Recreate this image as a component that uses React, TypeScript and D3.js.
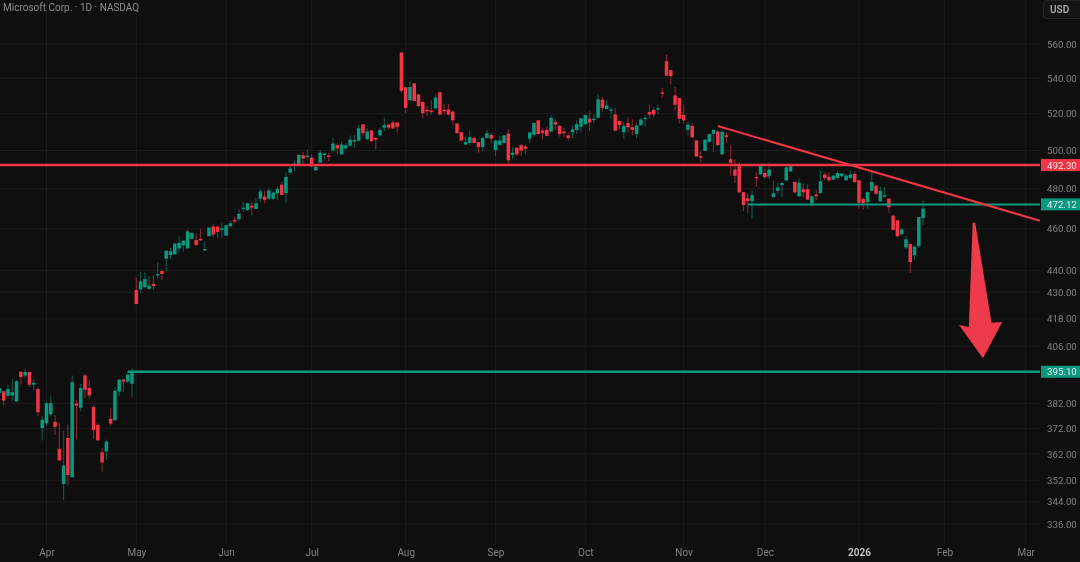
import React, { useRef, useEffect } from 'react';
import * as d3 from 'd3';

const WIDTH = 1080;
const HEIGHT = 562;

const opens = [
  386.2,387,385.1,385.3,382.8,395.1,393.5,395,389.7,387.9,
  372.1,374,377.6,374.6,363.9,350.6,368.2,353.1,382,380.2,
  393.5,388.3,380.6,373.4,362.6,363,375.8,375.2,386.9,391.8,
  391,390.1,431,431.3,432.3,431.5,433.8,438,439.8,445.6,
  447.3,447.6,450.5,452,450.5,455.1,454.5,455.1,449.7,456.4,
  461.1,461.1,459.5,456.7,461.3,464.3,464.7,470.2,469.2,471.5,
  469.8,475,476.1,475,475,477.8,482.1,477.8,488.4,492.6,
  492.7,497.5,496.7,496.2,489.6,493.6,497.6,497.3,500,502.8,
  497.9,501.1,502.6,505.1,505.3,514.2,506.1,510.7,506.7,508.1,
  512.3,514,515.1,515.1,554.9,534.8,527.4,537,530.7,526.5,
  522.1,521.7,522.9,532,522.1,522.3,521.1,514.6,509.8,503.2,
  504,506.7,504.5,501.8,506.7,508.4,500.2,503,504,509,
  497.6,501.4,502.8,502.1,506.3,508.4,516.3,510.7,511.1,510.2,
  515.4,513.3,510.2,508.1,509.8,511.1,512.8,514.2,517.2,516.7,
  517.7,527.8,522.5,521.7,519.5,516,509.8,514.8,512.5,508.8,
  513.7,517.2,520.9,522.1,522.3,531.9,549.9,544.7,530.2,528.7,
  519.3,511.1,513.2,505.4,497,499.8,504.6,509,510.2,497.9,
  508.2,495.3,490,492.6,478.3,475.2,473.7,486.1,487.4,488.2,
  486.5,475.8,479,481.9,484.3,489,483.5,476.2,479.8,479.8,
  472.5,477,477.8,487.4,486.1,484.7,485.6,486.5,484.4,485.6,
  487.7,484.4,474.8,473.2,479,481.6,473.7,476.3,475,466.5,
  464.2,457.3,451,452.7,447.2,451.6,465.3,
];

const highs = [
  388.6,387,389.7,392.1,391.6,395.1,396.2,395.2,392.1,388.6,
  377.1,382.8,384.9,377.3,374.3,371,373.6,393.5,383.5,390,
  394.3,391.8,381.4,374,364.3,367.6,380,388.6,392.1,392.5,
  395.2,396.6,436.8,439.4,439.4,437.6,438,443.7,440.8,449.4,
  450.8,452.9,456.4,454.3,459.5,458.3,457.7,460,454,460.6,
  462.4,461.6,462.7,461.8,463.8,466,469.7,473.2,473,473.6,
  475.2,480,479.2,480.3,478.7,481.2,483.5,488.4,491.9,494.8,
  497.7,499.3,500.5,497.9,491.9,500,498.8,498.8,506.7,504,
  504.9,504,508,508.4,513.7,514.2,512,511.1,506.7,512.5,
  517.7,514.6,516.3,515.4,554.9,534.8,538.3,537,531.2,527.4,
  524.2,527.4,530.9,532,525.5,525.5,521.7,514.6,509.8,507.5,
  510.7,507.5,504.5,507.5,511.1,509.3,505.8,508.1,508.1,511.6,
  501.4,501.9,503.2,503.2,509.7,514.9,516.3,512,512.8,519,
  517.2,513.7,512,509.3,513.7,516.3,517.5,519.3,521.3,519.8,
  530.7,529.3,527.4,523.6,523,516,515.4,518,516.7,514.6,
  517.7,519,524.9,523.6,524.9,534.4,553.5,544.7,535,528.7,
  524.6,515.4,514.6,505.4,499.6,506.1,509.3,511.4,510.7,510.7,
  510,502.8,495.3,493.9,478.3,477.8,479,488.5,492.8,490.2,
  493.5,484.1,483,483.3,491.7,492.3,483.9,485.6,482.6,482.1,
  477,479.5,489.6,488.6,488.6,487.4,489.1,488.2,487.7,489.6,
  489.1,484.4,475.5,478.7,489.6,482.1,480.9,480.9,475.3,467,
  464.2,460.3,456.7,452.7,451.9,465.8,474,
];

const lows = [
  385.3,381.1,384.9,383.2,382.8,389.7,392.5,388.6,387.3,376.8,
  367.2,373,376.8,369.4,359.5,344.8,350.1,353.1,367.6,378.7,
  384.2,383.9,367.8,366.9,355.3,359.7,373,375.2,384.9,386.6,
  390.4,384.5,424.6,429.7,431.8,431,431,436,435.7,439.7,
  445.3,447.6,448.8,448.8,450.5,454.8,452,454,449.2,456.4,
  456,455.5,455.6,456.4,460.8,462.7,463.8,468.5,468.8,466.8,
  469.7,473.3,472.7,474.4,474.4,474.4,476.9,472.7,487.2,489,
  492.7,492.7,495.3,491.6,489.2,493.6,495.3,494.5,498.8,497.9,
  497.9,500.5,502.3,501.4,504.9,507.5,505.4,504.9,500.5,507.5,
  510.2,511.1,511.4,509.3,531.8,520.4,527.4,527,523.6,517.5,
  518.6,519.5,522.7,519,519.5,519,513.7,509,504.9,502.8,
  502.6,503.7,498.8,499.7,506.1,504,497.1,502.6,503.7,492.7,
  495.3,497.1,497.1,497.9,504,507.5,508.8,505.8,507.5,509.8,
  511.1,507.5,507.2,505.3,506.7,508.8,510.2,513.7,510.5,514.6,
  517.7,521.1,522.5,517.2,510.2,511.4,506.1,509.8,508.1,506.7,
  513.3,512.8,517.2,518,519.8,528.8,541.4,536.4,521.7,514.6,
  514.6,507.9,507,496.8,493.5,499.6,504.1,499.1,502.8,497.9,
  504.1,486.8,483,478.2,468.7,467.8,465,480.9,487.4,485.1,
  485.1,475.8,477.5,475.8,484.3,488.7,477.8,475.8,475.8,474.5,
  470.8,474.5,477.8,484.6,483.7,484.7,485.3,486.1,484.2,485.3,
  483,470,469.6,469.9,478.7,477,473.2,476.2,468,459.5,
  456,456.8,450.2,438.9,445,450.8,462,
];

const closes = [
  388.3,383.2,387.9,386.6,391.1,392.9,395,389.7,390.5,378.4,
  375.4,382.1,382.1,372.6,359.5,357.6,354,390.7,381.1,388.3,
  387.6,385.3,371.4,367.3,358.8,366.8,373.9,387.2,391.8,391,
  393.9,395.2,424.6,435,436.1,433,432.9,438.4,438.4,449.4,
  449.2,452.9,453.2,454.3,458.8,458,452.1,454.5,450.2,460.6,
  457.2,458.5,460.3,461.8,462.7,463.7,467.4,470.5,472.7,470.5,
  472.7,478.7,474.4,479.2,478.1,480,476.9,486.1,490.5,493,
  497.7,495.8,497.3,491.6,491.4,498.8,498.4,496.7,503.7,501.1,
  503.2,502.8,505.8,505.6,512,509.3,510.2,504.9,505.8,511.1,
  513.7,512.3,511.9,512.8,532.7,523.2,535,527,524.2,520.2,
  521.3,521,529,519.5,521.3,519.5,516.3,509.3,505.3,504.5,
  507.2,504,501.8,506.7,509.3,506.3,505.3,505.3,508.1,494.8,
  498.8,497.9,500,500.9,509.7,514.9,508.8,509.3,507.9,517.7,
  514,508.8,509.3,506.7,511.4,514.2,517.5,519.3,515.1,517.2,
  528,523.2,524.6,522.3,510.7,513.7,513.2,512.5,511.1,513.5,
  516.7,517.7,519.5,519.5,523,531.3,541.4,541.2,525,517.2,
  516.3,514,507,496.8,496.5,505.8,508.8,511.1,502.8,510,
  507.2,493.5,486.8,478.2,471.8,473.8,476.8,485.6,492,486,
  490,477.8,480.7,483,491.1,491.7,478.2,483.2,478.2,474.5,
  476.2,476.2,483.9,485.6,484.4,486.8,488.2,487.9,486.8,487.4,
  483.5,473,472.8,478.3,483.5,477.5,479,476.7,470.7,459.5,
  456.4,459.8,454.9,444,451.3,465.8,470,
];

const priceTicks = [560, 540, 520, 500, 480, 460, 440, 430, 418, 406, 382, 372, 362, 352, 344, 336];
const monthIndex = [11, 32, 53, 73, 95, 116, 137, 160, 179, 201, 221, 240];
const monthLabels = ['Apr', 'May', 'Jun', 'Jul', 'Aug', 'Sep', 'Oct', 'Nov', 'Dec', '2026', 'Feb', 'Mar'];

// horizontal levels: price, bar the line starts at, colour
const levelPrices = [492.3, 472.12, 395.1];
const levelStarts = [-1, 175, 30];
const levelWidths = [2.4, 2, 2.4];

// falling trend line
const trendIndex = [168, 243.3];
const trendPrice = [513.2, 464];

// big arrow drawn on the chart, in bars and prices
const arrowIndex = [227.6, 226.7, 224.4, 230, 234.5, 232, 228.2];
const arrowPrice = [463, 414.4, 415.3, 400.8, 416.6, 416.2, 463];

const GREEN = '#089981';
const RED = '#f23645';
const GRID = '#1b1b1b';
const BG = '#0f0f0f';
const TEXT = '#828282';
const FONT = 'Roboto, Inter, sans-serif';

const App: React.FC = () => {
  const d3Container = useRef<SVGSVGElement>(null);

  useEffect(() => {
    if (!d3Container.current) return;
    const svg = d3.select(d3Container.current);
    svg.selectAll('*').remove();

    const plotRight = 1040;
    const x = d3.scaleLinear().domain([0, 240]).range([-0.53, 1025.71]);
    const y = d3.scaleLog().domain([336, 560]).range([524, 44]);

    svg.append('rect').attr('width', WIDTH).attr('height', HEIGHT).attr('fill', BG);

    // grid
    svg.append('g').selectAll('line').data(priceTicks).join('line')
      .attr('x1', 0).attr('x2', plotRight)
      .attr('y1', d => y(d)).attr('y2', d => y(d))
      .attr('stroke', GRID);
    svg.append('g').selectAll('line').data(monthIndex).join('line')
      .attr('x1', d => x(d)).attr('x2', d => x(d))
      .attr('y1', 0).attr('y2', 545)
      .attr('stroke', GRID);

    // candles
    const bars = d3.range(opens.length);
    const barColor = (i: number) => (closes[i] >= opens[i] ? GREEN : RED);
    svg.append('g').selectAll('line').data(bars).join('line')
      .attr('x1', i => x(i)).attr('x2', i => x(i))
      .attr('y1', i => y(highs[i])).attr('y2', i => y(lows[i]))
      .attr('stroke', barColor)
      .attr('stroke-opacity', 0.55)
      .attr('stroke-width', 1.1);
    svg.append('g').selectAll('rect').data(bars).join('rect')
      .attr('x', i => x(i) - 1.75)
      .attr('width', 3.5)
      .attr('y', i => y(Math.max(opens[i], closes[i])))
      .attr('height', i => Math.max(1.4, Math.abs(y(opens[i]) - y(closes[i]))))
      .attr('fill', barColor);

    // levels
    const levelColors = [RED, GREEN, GREEN];
    svg.append('g').selectAll('line').data(levelPrices).join('line')
      .attr('x1', (_, i) => Math.max(0, x(levelStarts[i])))
      .attr('x2', plotRight)
      .attr('y1', d => y(d)).attr('y2', d => y(d))
      .attr('stroke', (_, i) => levelColors[i])
      .attr('stroke-width', (_, i) => levelWidths[i]);

    // trend line
    const trendLine = d3.line<number>()
      .x(d => x(d))
      .y((_, i) => y(trendPrice[i]));
    svg.append('path')
      .attr('d', trendLine(trendIndex))
      .attr('fill', 'none')
      .attr('stroke', RED)
      .attr('stroke-width', 2);

    // arrow
    const arrowLine = d3.line<number>()
      .x(d => x(d))
      .y((_, i) => y(arrowPrice[i]))
      .curve(d3.curveLinearClosed);
    svg.append('path')
      .attr('d', arrowLine(arrowIndex))
      .attr('fill', '#ee3a4a');

    // price axis
    const yAxis = d3.axisRight(y)
      .tickValues(priceTicks)
      .tickFormat(d => d3.format('.2f')(d as number))
      .tickSize(0)
      .tickPadding(7);
    const yAxisG = svg.append('g').attr('transform', `translate(${plotRight},0)`).call(yAxis);
    yAxisG.select('.domain').remove();
    yAxisG.selectAll('text')
      .attr('fill', TEXT)
      .style('font-family', FONT)
      .style('font-size', '9.7px');

    // time axis
    const xAxis = d3.axisBottom(x)
      .tickValues(monthIndex)
      .tickFormat((_, i) => monthLabels[i])
      .tickSize(0)
      .tickPadding(0);
    const xAxisG = svg.append('g').attr('transform', 'translate(0,549)').call(xAxis);
    xAxisG.select('.domain').remove();
    xAxisG.selectAll('text')
      .attr('fill', TEXT)
      .style('font-family', FONT)
      .style('font-size', '10px');
    xAxisG.selectAll('text')
      .filter((_, i) => monthLabels[i] === '2026')
      .attr('fill', '#c9c9c9')
      .style('font-weight', 600);

    // level price tags
    const tags = svg.append('g').selectAll('g').data(levelPrices).join('g')
      .attr('transform', d => `translate(${plotRight + 1},${y(d)})`);
    tags.append('rect')
      .attr('y', -6).attr('width', 39).attr('height', 12)
      .attr('fill', (_, i) => levelColors[i]);
    tags.append('text')
      .attr('x', 6).attr('y', 3.5)
      .attr('fill', '#e8e8e8')
      .style('font-family', FONT)
      .style('font-size', '9.7px')
      .text(d => d3.format('.2f')(d));

    // header
    svg.append('text')
      .attr('x', 3).attr('y', 11)
      .attr('fill', '#8c8c8c')
      .style('font-family', FONT)
      .style('font-size', '10px')
      .text('Microsoft Corp. · 1D · NASDAQ');

    svg.append('rect')
      .attr('x', 1043.5).attr('y', 0.5).attr('width', 40).attr('height', 18).attr('rx', 3)
      .attr('fill', '#141414').attr('stroke', '#262626');
    svg.append('text')
      .attr('x', 1050).attr('y', 12.5)
      .attr('fill', '#a8a8a8')
      .style('font-family', FONT)
      .style('font-size', '10px')
      .style('font-weight', 600)
      .text('USD');
  }, []);

  return (
    <svg
      ref={d3Container}
      width={WIDTH}
      height={HEIGHT}
      style={{ position: 'absolute', left: 0, top: 0, display: 'block', filter: 'blur(0.35px)' }}
    />
  );
};

export default App;
